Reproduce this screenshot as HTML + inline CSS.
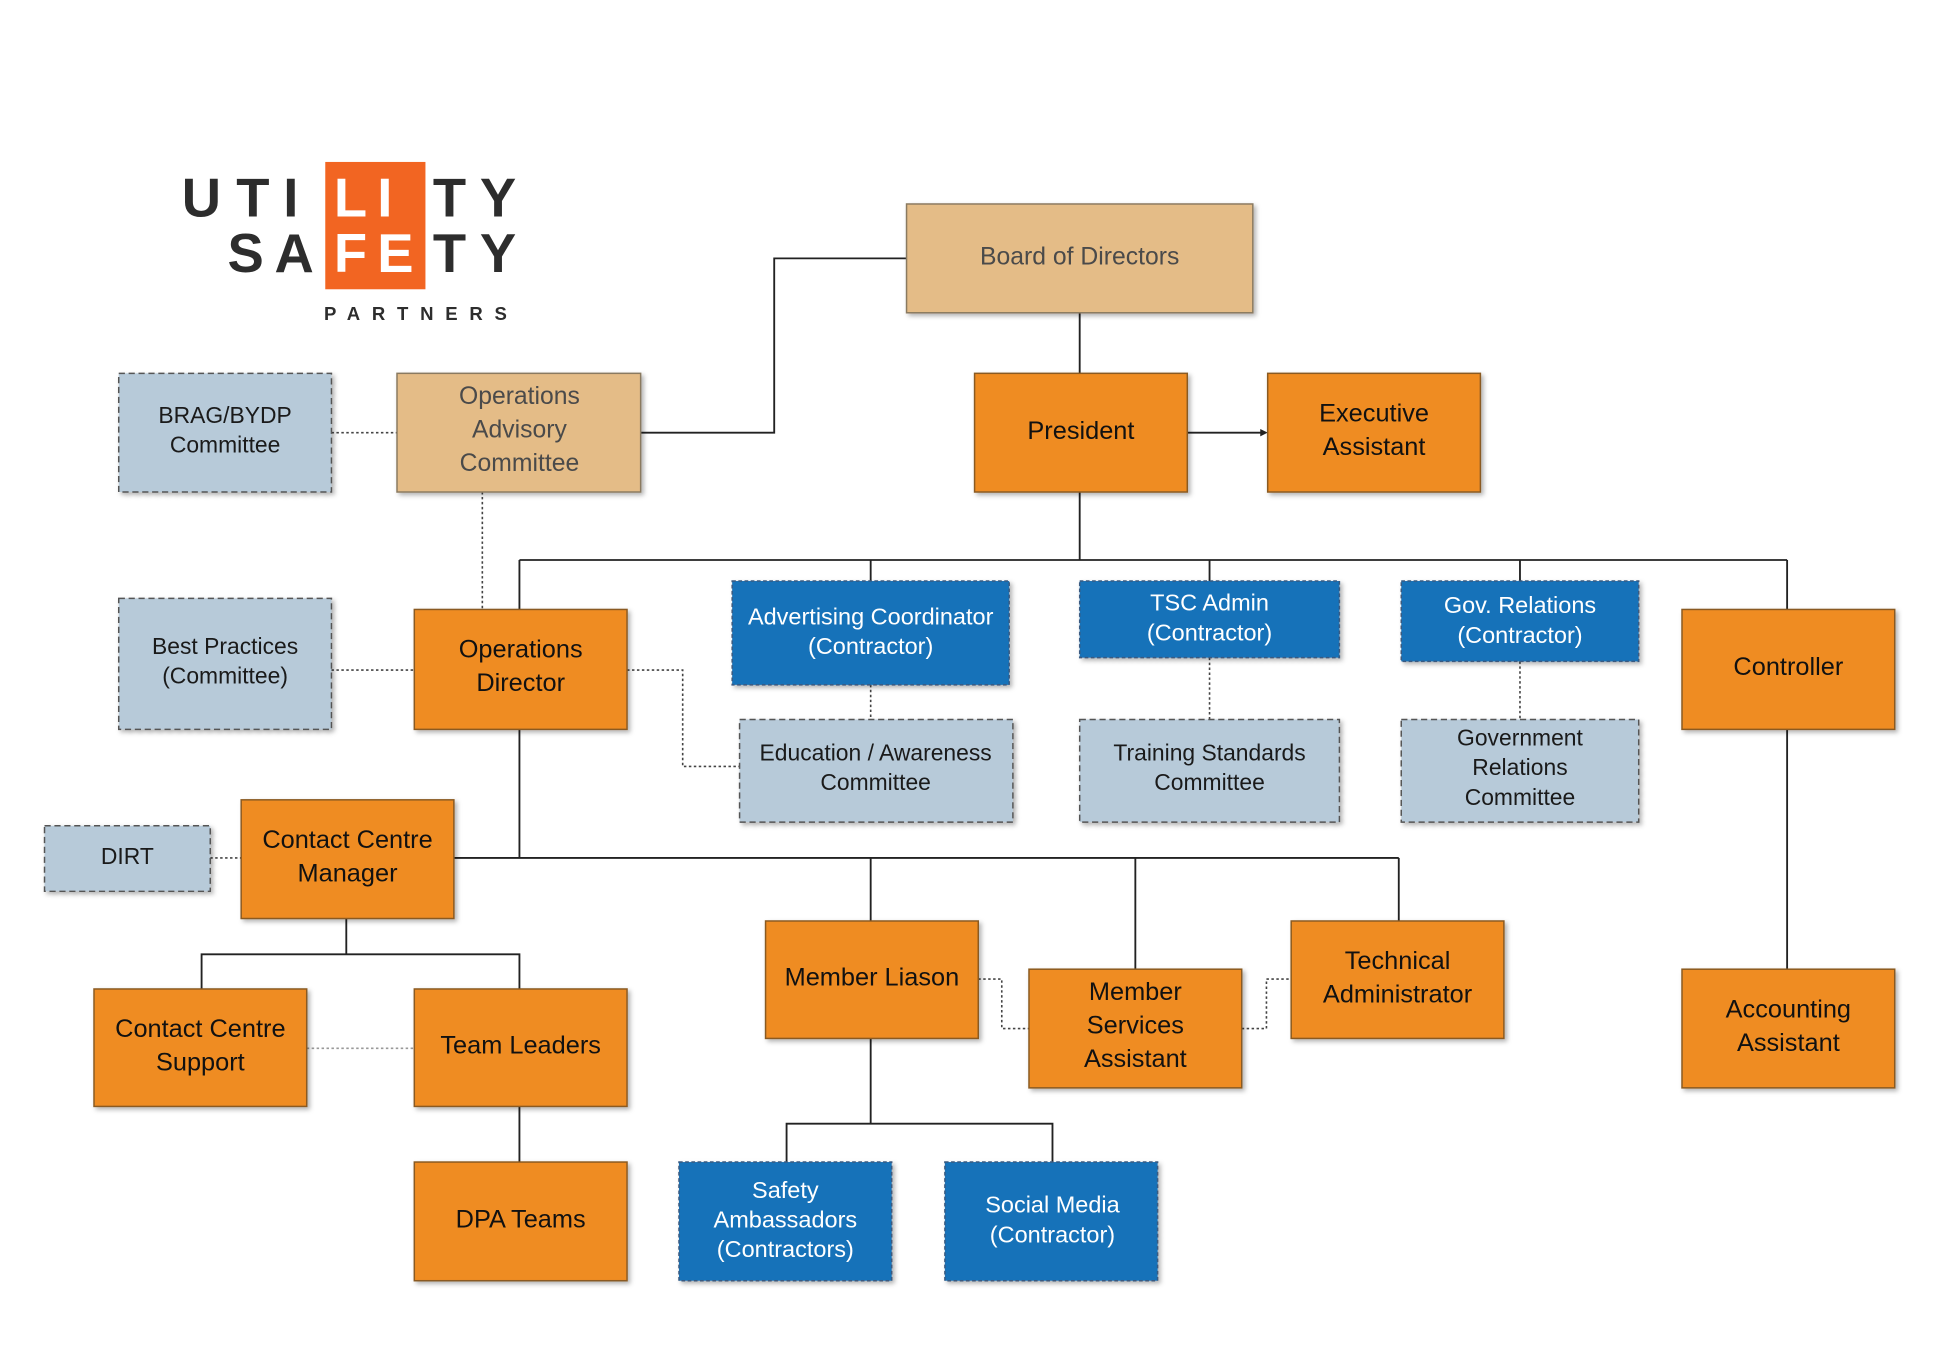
<!DOCTYPE html>
<html><head><meta charset="utf-8"><style>
html,body{margin:0;padding:0;background:#fff;}
svg{display:block;}
text{font-family:"Liberation Sans",Arial,sans-serif;}
</style></head><body>
<svg width="1938" height="1345" viewBox="0 0 1567 1088" preserveAspectRatio="none" xmlns="http://www.w3.org/2000/svg">
<defs>
<filter id="sh" x="-10%" y="-10%" width="130%" height="130%"><feDropShadow dx="2" dy="2" stdDeviation="2" flood-color="#000" flood-opacity="0.3"/></filter>
</defs>
<rect width="1567" height="1088" fill="#fff"/>
<!-- logo -->
<rect x="263" y="131" width="81" height="103" fill="#f26522"/>
<g font-weight="bold" font-size="44" fill="#2d2d2d" font-family="'Liberation Mono',monospace">
<text x="147" y="175">U</text><text x="191" y="175">T</text><text x="229" y="175">I</text>
<text x="270" y="175" fill="#fff">L</text><text x="305" y="175" fill="#fff">I</text>
<text x="350" y="175">T</text><text x="388" y="175">Y</text>
<text x="184" y="220">S</text><text x="222" y="220">A</text>
<text x="270" y="220" fill="#fff">F</text><text x="305" y="220" fill="#fff">E</text>
<text x="350" y="220">T</text><text x="388" y="220">Y</text>
</g>
<text x="262" y="259" font-size="15" font-weight="bold" fill="#2d2d2d" letter-spacing="9.5">PARTNERS</text>

<!-- solid lines -->
<g stroke="#222" stroke-width="1.5" fill="none">
<polyline points="733,209 626,209 626,350 518,350"/>
<line x1="873" y1="253" x2="873" y2="302"/>
<line x1="960" y1="350" x2="1022" y2="350"/>
<line x1="873" y1="398" x2="873" y2="453"/>
<line x1="420" y1="453" x2="1445" y2="453"/>
<line x1="420" y1="453" x2="420" y2="493"/>
<line x1="704" y1="453" x2="704" y2="470"/>
<line x1="978" y1="453" x2="978" y2="470"/>
<line x1="1229" y1="453" x2="1229" y2="470"/>
<line x1="1445" y1="453" x2="1445" y2="493"/>
<line x1="420" y1="590" x2="420" y2="694"/>
<line x1="367" y1="694" x2="1131" y2="694"/>
<line x1="704" y1="694" x2="704" y2="745"/>
<line x1="918" y1="694" x2="918" y2="784"/>
<line x1="1131" y1="694" x2="1131" y2="745"/>
<line x1="280" y1="743" x2="280" y2="772"/>
<polyline points="163,800 163,772 420,772 420,800"/>
<line x1="420" y1="895" x2="420" y2="940"/>
<line x1="704" y1="840" x2="704" y2="909"/>
<polyline points="636,940 636,909 851,909 851,940"/>
<line x1="1445" y1="590" x2="1445" y2="784"/>
</g>
<polygon points="1025,350 1019,347 1019,353" fill="#222"/>
<!-- dotted lines -->
<g stroke="#444" stroke-width="1.3" fill="none" stroke-dasharray="2,2">
<line x1="268" y1="350" x2="321" y2="350"/>
<line x1="390" y1="398" x2="390" y2="493"/>
<line x1="268" y1="542" x2="335" y2="542"/>
<polyline points="507,542 552,542 552,620 598,620"/>
<line x1="704" y1="554" x2="704" y2="582"/>
<line x1="978" y1="532" x2="978" y2="582"/>
<line x1="1229" y1="535" x2="1229" y2="582"/>
<line x1="170" y1="694" x2="195" y2="694"/>
<line x1="248" y1="848" x2="335" y2="848" stroke="#999"/>
<polyline points="791,792 810,792 810,832 832,832"/>
<polyline points="1004,832 1024,832 1024,792 1044,792"/>
</g>

<!-- boxes -->
<g filter="url(#sh)" stroke-width="1.2">
<rect x="733" y="165" width="280" height="88" fill="#e4bc87" stroke="#8a7a60"/>
<rect x="321" y="302" width="197" height="96" fill="#e4bc87" stroke="#8a7a60"/>
<g fill="#b7cad9" stroke="#555" stroke-dasharray="5,3">
<rect x="96" y="302" width="172" height="96"/>
<rect x="96" y="484" width="172" height="106"/>
<rect x="598" y="582" width="221" height="83"/>
<rect x="873" y="582" width="210" height="83"/>
<rect x="1133" y="582" width="192" height="83"/>
<rect x="36" y="668" width="134" height="53"/>
</g>
<g fill="#ef8c22" stroke="#8a5a20">
<rect x="788" y="302" width="172" height="96"/>
<rect x="1025" y="302" width="172" height="96"/>
<rect x="335" y="493" width="172" height="97"/>
<rect x="1360" y="493" width="172" height="97"/>
<rect x="195" y="647" width="172" height="96"/>
<rect x="76" y="800" width="172" height="95"/>
<rect x="335" y="800" width="172" height="95"/>
<rect x="335" y="940" width="172" height="96"/>
<rect x="619" y="745" width="172" height="95"/>
<rect x="832" y="784" width="172" height="96"/>
<rect x="1044" y="745" width="172" height="95"/>
<rect x="1360" y="784" width="172" height="96"/>
</g>
<g fill="#1572b9" stroke="#3a5a80" stroke-dasharray="3,2">
<rect x="592" y="470" width="224" height="84"/>
<rect x="873" y="470" width="210" height="62"/>
<rect x="1133" y="470" width="192" height="65"/>
<rect x="549" y="940" width="172" height="96"/>
<rect x="764" y="940" width="172" height="96"/>
</g>
</g>

<!-- text -->
<g font-size="20" text-anchor="middle" fill="#4a4a4a">
<text x="873" y="214">Board of Directors</text>
<text x="420" y="327">Operations</text><text x="420" y="354">Advisory</text><text x="420" y="381">Committee</text>
</g>
<g font-size="18.5" text-anchor="middle" fill="#1a1a1a">
<text x="182" y="342">BRAG/BYDP</text><text x="182" y="366">Committee</text>
<text x="182" y="529">Best Practices</text><text x="182" y="553">(Committee)</text>
<text x="708" y="615">Education / Awareness</text><text x="708" y="639">Committee</text>
<text x="978" y="615">Training Standards</text><text x="978" y="639">Committee</text>
<text x="1229" y="603">Government</text><text x="1229" y="627">Relations</text><text x="1229" y="651">Committee</text>
<text x="103" y="699">DIRT</text>
</g>
<g font-size="20.5" text-anchor="middle" fill="#111">
<text x="874" y="355">President</text>
<text x="1111" y="341">Executive</text><text x="1111" y="368">Assistant</text>
<text x="421" y="532">Operations</text><text x="421" y="559">Director</text>
<text x="1446" y="546">Controller</text>
<text x="281" y="686">Contact Centre</text><text x="281" y="713">Manager</text>
<text x="162" y="839">Contact Centre</text><text x="162" y="866">Support</text>
<text x="421" y="852">Team Leaders</text>
<text x="421" y="993">DPA Teams</text>
<text x="705" y="797">Member Liason</text>
<text x="918" y="809">Member</text><text x="918" y="836">Services</text><text x="918" y="863">Assistant</text>
<text x="1130" y="784">Technical</text><text x="1130" y="811">Administrator</text>
<text x="1446" y="823">Accounting</text><text x="1446" y="850">Assistant</text>
</g>
<g font-size="19" text-anchor="middle" fill="#fff">
<text x="704" y="505">Advertising Coordinator</text><text x="704" y="529">(Contractor)</text>
<text x="978" y="494">TSC Admin</text><text x="978" y="518">(Contractor)</text>
<text x="1229" y="496">Gov. Relations</text><text x="1229" y="520">(Contractor)</text>
<text x="635" y="969">Safety</text><text x="635" y="993">Ambassadors</text><text x="635" y="1017">(Contractors)</text>
<text x="851" y="981">Social Media</text><text x="851" y="1005">(Contractor)</text>
</g>
</svg>
</body></html>
